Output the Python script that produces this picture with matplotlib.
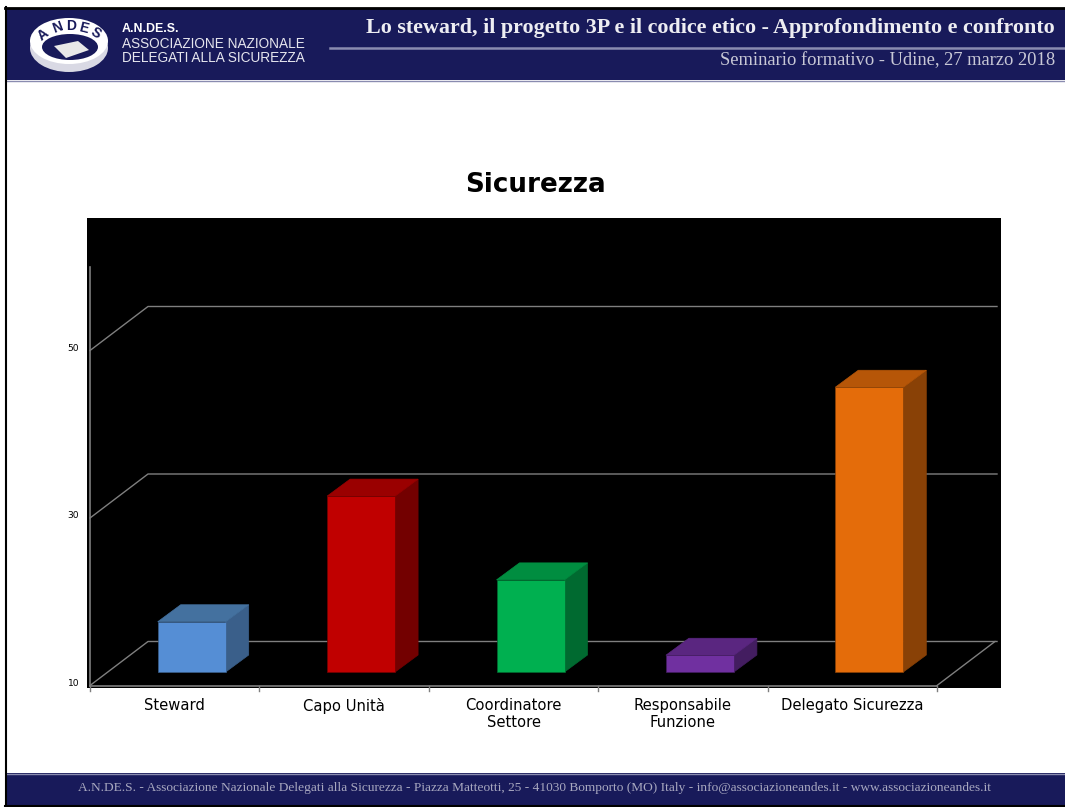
import matplotlib
matplotlib.use("Agg")
import matplotlib.pyplot as plt
from matplotlib.patches import Polygon, Rectangle, Ellipse
from matplotlib.transforms import ScaledTranslation

categories = ["Steward", "Capo Unità", "Coordinatore\nSettore", "Responsabile\nFunzione", "Delegato Sicurezza"]
values = [16, 31, 21, 12, 44]
front_colors = ["#558ED5", "#C00000", "#00B050", "#7030A0", "#E46C0A"]
top_colors = ["#44719F", "#9A0000", "#008D40", "#5A2680", "#B65608"]
side_colors = ["#3A5F8A", "#730000", "#006A30", "#431D60", "#894106"]
y_ticks = [10, 30, 50]
title = "Sicurezza"
header_title = "Lo steward, il progetto 3P e il codice etico - Approfondimento e confronto"
header_sub = "Seminario formativo - Udine, 27 marzo 2018"
org_lines = ["A.N.DE.S.", "ASSOCIAZIONE NAZIONALE", "DELEGATI ALLA SICUREZZA"]
footer = ("A.N.DE.S. - Associazione Nazionale Delegati alla Sicurezza - Piazza Matteotti, 25 - 41030 "
          "Bomporto (MO) Italy - info@associazioneandes.it - www.associazioneandes.it")

W, H = 1065, 807
NAVY = "#181A5A"
GRID = "#7F7F7F"
fig = plt.figure(figsize=(W / 100, H / 100), dpi=100, facecolor="white")

# page layer in pixel coordinates
bg = fig.add_axes([0, 0, 1, 1], zorder=0)
bg.set_xlim(0, W)
bg.set_ylim(H, 0)
bg.axis("off")
bg.add_patch(Rectangle((6, 8), W - 6, 72, fc=NAVY, ec="none"))
bg.add_patch(Rectangle((6, 773), W - 6, 32, fc=NAVY, ec="none"))
bg.plot([6, W], [80.5, 80.5], color="#8A8CB0", lw=1)
bg.plot([6, W], [773.5, 773.5], color="#8A8CB0", lw=1)
bg.plot([5.5, 5.5], [7, 806], color="black", lw=1.5)
bg.plot([5, W], [7.5, 7.5], color="black", lw=2)
bg.plot([5, W], [805.5, 805.5], color="black", lw=1.5)
bg.plot([330, W], [47.5, 47.5], color="#8A8CB0", lw=1.8)

# logo
bg.add_patch(Ellipse((69, 48), 78, 48, fc="#D9D9E4", ec="none"))
bg.add_patch(Ellipse((69, 41), 78, 46, fc="white", ec="none"))
bg.add_patch(Ellipse((70, 47), 56, 26, fc=NAVY, ec="none"))
bg.add_patch(Polygon([[54, 46], [78, 41], [89, 50], [66, 58]], closed=True, fc="#E8E8E8", ec="none"))
logo_letters = "ANDES"
logo_x = [43, 57, 71, 84, 96]
logo_y = [35, 28, 26, 28, 33]
logo_r = [38, 20, 0, -14, -32]
for ch, lx, ly, lr in zip(logo_letters, logo_x, logo_y, logo_r):
    bg.text(lx, ly, ch, family="Liberation Sans", weight="bold", fontsize=10, color=NAVY,
            rotation=lr, ha="center", va="center")

bg.text(122, 29, org_lines[0], family="Liberation Sans", weight="bold", fontsize=8.9, color="white", va="center")
bg.text(122, 43.5, org_lines[1], family="Liberation Sans", fontsize=9.85, color="#E6E6EE", va="center")
bg.text(122, 57.5, org_lines[2], family="Liberation Sans", fontsize=9.85, color="#E6E6EE", va="center")
bg.text(1055, 28, header_title, family="Liberation Serif", weight="bold", fontsize=15.8, color="#EDEDF2",
        ha="right", va="center")
bg.text(1055, 61, header_sub, family="Liberation Serif", fontsize=13.3, color="#C8C8D6", ha="right", va="center")
bg.text(535, 788, footer, family="Liberation Serif", fontsize=9.65, color="#A8A8C0", ha="center", va="center")
bg.text(535.5, 185.5, title, family="DejaVu Sans", weight="bold", fontsize=18.8, color="black", ha="center", va="center")

# chart axes: x in categories, y in value units
L, R, T, B = 87, 1001, 218, 688
ax = fig.add_axes([L / W, 1 - B / H, (R - L) / W, (B - T) / H], zorder=1, facecolor="black")
PX_X = 169.4   # pixels per category
PX_Y = 8.375   # pixels per value unit
ZERO_X, ZERO_Y = 90, 685.5
ax.set_xlim((L - ZERO_X) / PX_X, (R - ZERO_X) / PX_X)
ax.set_ylim(10 - (B - ZERO_Y) / PX_Y, 10 + (ZERO_Y - T) / PX_Y)
for s in ax.spines.values():
    s.set_visible(False)

n = len(categories)
wall_dx, wall_dy = 58 / PX_X, 44 / PX_Y
x_end = (997 - ZERO_X) / PX_X

# walls and floor
for v in y_ticks:
    ax.plot([0, wall_dx, x_end], [v, v + wall_dy, v + wall_dy], color=GRID, lw=1, zorder=1)
ax.plot([0, n], [10, 10], color=GRID, lw=1.2, zorder=1)
ax.plot([n, n + wall_dx], [10, 10 + wall_dy], color=GRID, lw=1, zorder=1)
ax.plot([0, 0], [10, 60], color=GRID, lw=1.2, zorder=1)
for i in range(n + 1):
    ax.plot([i, i], [10, 10 - 5 / PX_Y], color=GRID, lw=1, zorder=3, clip_on=False)

# 3D bars
bar_w = 68 / PX_X
bar_off = 17 / PX_X
lift = 13.5 / PX_Y
bar_base = 10 + lift
dx, dy = 23 / PX_X, 17 / PX_Y
for i, v in enumerate(values):
    x0 = i + 0.5 + bar_off - bar_w / 2
    x1 = x0 + bar_w
    top = v + lift
    ax.add_patch(Polygon([[x1, bar_base], [x1 + dx, bar_base + dy], [x1 + dx, top + dy], [x1, top]],
                         closed=True, fc=side_colors[i], ec=side_colors[i], lw=0.5, zorder=2))
    ax.add_patch(Polygon([[x0, top], [x1, top], [x1 + dx, top + dy], [x0 + dx, top + dy]],
                         closed=True, fc=top_colors[i], ec=top_colors[i], lw=0.5, zorder=2))
    ax.add_patch(Polygon([[x0, bar_base], [x1, bar_base], [x1, top], [x0, top]],
                         closed=True, fc=front_colors[i], ec=side_colors[i], lw=0.5, zorder=3))

# axis labels
ax.set_yticks(y_ticks)
ax.set_yticklabels([str(v) for v in y_ticks], fontsize=6.6, color="black", family="DejaVu Sans")
ax.tick_params(axis="y", length=0, pad=5.5)
shift = ScaledTranslation(0, 2.5 / 72, fig.dpi_scale_trans)
for lab in ax.get_yticklabels():
    lab.set_transform(lab.get_transform() + shift)
ax.set_xticks([i + 0.5 for i in range(n)])
ax.set_xticklabels(categories, fontsize=10.6, color="black", family="DejaVu Sans", linespacing=1.2)
ax.tick_params(axis="x", length=0, pad=7)

fig.savefig("out.png", dpi=100, facecolor="white")
